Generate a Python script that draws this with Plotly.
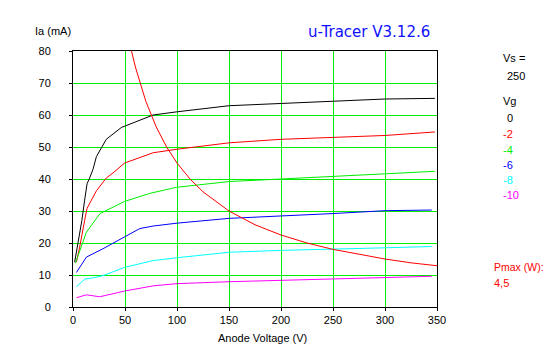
import plotly.graph_objects as go

# ---- data ----
v_g0 = [1.6, 4.8, 8.5, 11.2, 13.5, 16, 19.2, 22.5, 32, 46.5, 57.7, 77, 100, 150, 200, 250, 300, 348]
ia_g0 = [14, 19.8, 27, 33.4, 38.5, 40.3, 43, 47, 52.4, 56.1, 57.6, 60, 61, 62.9, 63.6, 64.3, 65, 65.2]

v_g2 = [3.3, 6.4, 11.2, 13.5, 17.7, 22.5, 32, 38.5, 49.7, 77, 100, 150, 200, 250, 300, 348]
ia_g2 = [14, 18.7, 27.1, 30.8, 33.4, 36.3, 40.3, 41.9, 45, 48.2, 49.3, 51.3, 52.4, 52.9, 53.6, 54.7]

v_g4 = [2.3, 8.1, 12.9, 26, 49.7, 73.8, 99.4, 121.8, 150, 200, 250, 300, 348]
ia_g4 = [13.7, 18.7, 23.4, 29.2, 33, 35.5, 37.4, 38.2, 39.2, 40, 40.8, 41.6, 42.4]

v_g6 = [3.3, 12.9, 28.8, 49.7, 64.1, 77, 100, 150, 200, 250, 300, 345]
ia_g6 = [10.8, 15.6, 18.2, 21.9, 24.5, 25.3, 26.2, 27.7, 28.4, 29.2, 30.1, 30.3]

v_g8 = [3.3, 11.2, 19.2, 28.8, 49.7, 77, 100, 150, 200, 250, 300, 345]
ia_g8 = [6.3, 8.7, 9.1, 9.8, 12.4, 14.5, 15.4, 17.1, 17.7, 18, 18.5, 18.9]

v_g10 = [3.3, 12.9, 25.7, 49.7, 77, 100, 150, 200, 250, 300, 345]
ia_g10 = [2.9, 3.8, 3.2, 5.0, 6.6, 7.3, 7.9, 8.4, 8.7, 9.2, 9.6]

v_pmax = [56.25, 60, 70, 80, 90, 100, 112.5, 125, 150, 175, 200, 225, 250, 275, 300, 325, 350]
ia_pmax = [80, 75, 64.3, 56.3, 50, 45, 40, 36, 30, 25.7, 22.5, 20, 18, 16.4, 15, 13.8, 12.9]

vg_labels = ["0", "-2", "-4", "-6", "-8", "-10"]
vg_colors = ["#000000", "#ff0000", "#00ee00", "#0000ff", "#00ffff", "#ff00ff"]
x_ticks = [0, 50, 100, 150, 200, 250, 300, 350]
y_ticks = [0, 10, 20, 30, 40, 50, 60, 70, 80]

FONT = "Liberation Sans, Arial, sans-serif"

W, H = 547, 357
PX0, PX1, PY0, PY1 = 73, 437, 51, 307   # plot area in window pixels

fig = go.Figure()
curves = [(v_g0, ia_g0), (v_g2, ia_g2), (v_g4, ia_g4), (v_g6, ia_g6), (v_g8, ia_g8), (v_g10, ia_g10)]
for (vx, iy), col in zip(curves, vg_colors):
    fig.add_trace(go.Scatter(x=vx, y=iy, mode="lines", line=dict(color=col, width=1),
                             hoverinfo="skip", showlegend=False))
fig.add_trace(go.Scatter(x=v_pmax, y=ia_pmax, mode="lines", line=dict(color="#ff0000", width=1),
                         hoverinfo="skip", showlegend=False))

axis_common = dict(showline=True, linecolor="black", linewidth=1, mirror=True,
                   ticks="outside", ticklen=3, tickcolor="black",
                   showgrid=True, gridcolor="#00ee00", gridwidth=1, zeroline=False,
                   tickfont=dict(family=FONT, size=11, color="black"))

fig.update_layout(
    width=W, height=H,
    margin=dict(l=PX0, r=W - PX1, t=PY0, b=H - PY1, autoexpand=False),
    paper_bgcolor="white", plot_bgcolor="white",
    xaxis=dict(range=[0, 350], tickvals=x_ticks, **axis_common),
    yaxis=dict(range=[0, 80], tickvals=y_ticks, ticklabelstandoff=16, **axis_common),
    showlegend=False,
)

ann = []
def txt(x, y, s, color="black", size=11, xanchor="left", family=FONT):
    ann.append(dict(x=(x - PX0) / (PX1 - PX0), y=(PY1 - y) / (PY1 - PY0),
                    xref="paper", yref="paper", text=s, showarrow=False,
                    xanchor=xanchor, yanchor="middle", font=dict(family=family, size=size, color=color)))

txt(33, 31, "Ia (mA)")
txt(262, 338, "Anode Voltage (V)", xanchor="center")
txt(306, 32, "u-Tracer V3.12.6", color="#1010ff", size=15, family="DejaVu Sans, sans-serif")
txt(501, 58, "Vs =")
txt(505, 76, "250")
txt(501, 101, "Vg")
ys = [118, 134, 150, 165, 180, 195]
for lab, col, yy in zip(vg_labels, vg_colors, ys):
    txt(505 if lab == "0" else 501, yy, lab, color=col)
txt(492, 267, "Pmax (W):", color="#ff0000", size=10.5)
txt(492, 283, "4,5", color="#ff0000")

fig.update_layout(annotations=ann)
fig.write_html(
    "out.html",
    config={"displayModeBar": False},
    post_script="document.body.style.margin='0';document.body.style.overflow='hidden';",
)
